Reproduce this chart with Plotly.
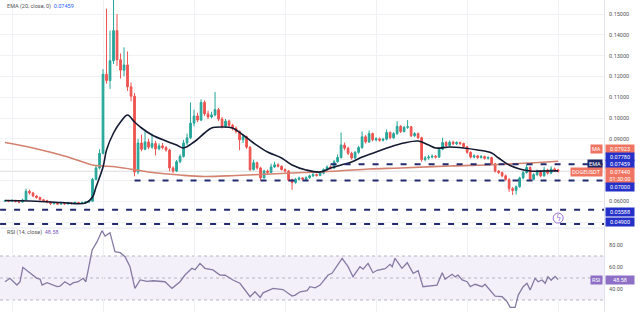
import plotly.graph_objects as go

# ---------------- data ----------------
open_ = [0.0600,0.0603,0.0600,0.0604,0.0598,0.0596,0.0606,0.0648,0.0640,0.0625,
         0.0618,0.0607,0.0603,0.0596,0.0588,0.0592,0.0586,0.0590,0.0587,0.0591,
         0.0589,0.0594,0.0590,0.0593,0.0596,0.0600,0.0705,0.0760,0.0830,0.1210,
         0.1180,0.1275,0.1420,0.1280,0.1230,0.1255,0.1150,0.1105,0.0740,0.0880,
         0.0850,0.0885,0.0860,0.0878,0.0852,0.0866,0.0858,0.0846,0.0760,0.0745,
         0.0790,0.0815,0.0880,0.0905,0.0975,0.1010,0.0990,0.1075,0.1020,0.1005,
         0.1015,0.1040,0.0995,0.0960,0.0985,0.0965,0.0950,0.0935,0.0895,0.0910,
         0.0860,0.0752,0.0785,0.0760,0.0712,0.0745,0.0738,0.0765,0.0775,0.0768,
         0.0752,0.0745,0.0702,0.0690,0.0705,0.0712,0.0706,0.0713,0.0722,0.0728,
         0.0724,0.0735,0.0752,0.0765,0.0760,0.0790,0.0810,0.0870,0.0855,0.0830,
         0.0808,0.0835,0.0858,0.0910,0.0885,0.0925,0.0895,0.0900,0.0893,0.0898,
         0.0930,0.0905,0.0925,0.0960,0.0935,0.0955,0.0958,0.0915,0.0925,0.0905,
         0.0800,0.0808,0.0812,0.0816,0.0812,0.0850,0.0882,0.0868,0.0884,0.0876,
         0.0882,0.0877,0.0862,0.0835,0.0812,0.0818,0.0810,0.0815,0.0806,0.0810,
         0.0780,0.0745,0.0738,0.0722,0.0705,0.0660,0.0652,0.0670,0.0712,0.0738,
         0.0762,0.0705,0.0728,0.0745,0.0722,0.0750,0.0735,0.0755,0.0750]
close = [0.0603,0.0600,0.0604,0.0598,0.0596,0.0606,0.0648,0.0640,0.0625,0.0618,
         0.0607,0.0603,0.0596,0.0588,0.0592,0.0586,0.0590,0.0587,0.0591,0.0589,
         0.0594,0.0590,0.0593,0.0596,0.0600,0.0705,0.0760,0.0830,0.1210,0.1180,
         0.1275,0.1420,0.1280,0.1230,0.1255,0.1150,0.1105,0.0740,0.0880,0.0850,
         0.0885,0.0860,0.0878,0.0852,0.0866,0.0858,0.0846,0.0760,0.0745,0.0790,
         0.0815,0.0880,0.0905,0.0975,0.1010,0.0990,0.1075,0.1020,0.1005,0.1015,
         0.1040,0.0995,0.0960,0.0985,0.0965,0.0950,0.0935,0.0895,0.0910,0.0860,
         0.0752,0.0785,0.0760,0.0712,0.0745,0.0738,0.0765,0.0775,0.0768,0.0752,
         0.0745,0.0702,0.0690,0.0705,0.0712,0.0706,0.0713,0.0722,0.0728,0.0724,
         0.0735,0.0752,0.0765,0.0760,0.0790,0.0810,0.0870,0.0855,0.0830,0.0808,
         0.0835,0.0858,0.0910,0.0885,0.0925,0.0895,0.0900,0.0893,0.0898,0.0930,
         0.0905,0.0925,0.0960,0.0935,0.0955,0.0958,0.0915,0.0925,0.0905,0.0800,
         0.0808,0.0812,0.0816,0.0812,0.0850,0.0882,0.0868,0.0884,0.0876,0.0882,
         0.0877,0.0862,0.0835,0.0812,0.0818,0.0810,0.0815,0.0806,0.0810,0.0780,
         0.0745,0.0738,0.0722,0.0705,0.0660,0.0652,0.0670,0.0712,0.0738,0.0762,
         0.0705,0.0728,0.0745,0.0722,0.0750,0.0735,0.0755,0.0750,0.0744]
high = [0.0607,0.0606,0.0608,0.0606,0.0601,0.0612,0.0660,0.0655,0.0645,0.0630,
        0.0622,0.0610,0.0607,0.0600,0.0597,0.0595,0.0594,0.0593,0.0596,0.0594,
        0.0598,0.0597,0.0598,0.0600,0.0605,0.0712,0.0775,0.0850,0.1235,0.1525,
        0.1420,0.1575,0.1500,0.1310,0.1340,0.1320,0.1170,0.1120,0.0900,0.0920,
        0.0935,0.0900,0.0925,0.0890,0.0878,0.0880,0.0865,0.0852,0.0768,0.0798,
        0.0825,0.0895,0.0925,0.1075,0.1040,0.1025,0.1090,0.1085,0.1035,0.1030,
        0.1125,0.1048,0.1005,0.0995,0.0992,0.0972,0.0960,0.0940,0.0922,0.0915,
        0.0865,0.0800,0.0790,0.0765,0.0752,0.0752,0.0780,0.0790,0.0782,0.0772,
        0.0758,0.0750,0.0708,0.0712,0.0718,0.0716,0.0720,0.0728,0.0735,0.0733,
        0.0740,0.0758,0.0772,0.0772,0.0798,0.0825,0.0930,0.0882,0.0862,0.0838,
        0.0842,0.0866,0.0935,0.0918,0.0940,0.0930,0.0908,0.0906,0.0905,0.0945,
        0.0936,0.0932,0.0985,0.0966,0.0962,0.0990,0.0962,0.0932,0.0930,0.0910,
        0.0818,0.0822,0.0825,0.0822,0.0858,0.0905,0.0890,0.0892,0.0890,0.0888,
        0.0886,0.0882,0.0866,0.0840,0.0825,0.0822,0.0822,0.0819,0.0816,0.0814,
        0.0784,0.0750,0.0742,0.0728,0.0710,0.0668,0.0676,0.0718,0.0745,0.0775,
        0.0768,0.0735,0.0752,0.0750,0.0765,0.0756,0.0768,0.0762,0.0756]
low = [0.0597,0.0596,0.0598,0.0594,0.0590,0.0594,0.0603,0.0632,0.0620,0.0612,
       0.0603,0.0598,0.0590,0.0582,0.0585,0.0581,0.0583,0.0582,0.0584,0.0584,
       0.0586,0.0586,0.0587,0.0589,0.0592,0.0598,0.0700,0.0752,0.0825,0.1165,
       0.1140,0.1260,0.1250,0.1190,0.1200,0.1130,0.1080,0.0720,0.0730,0.0840,
       0.0845,0.0850,0.0852,0.0820,0.0845,0.0850,0.0838,0.0745,0.0735,0.0740,
       0.0782,0.0810,0.0870,0.0898,0.0960,0.0980,0.0985,0.1010,0.0995,0.0998,
       0.1008,0.0985,0.0950,0.0952,0.0958,0.0940,0.0925,0.0845,0.0880,0.0852,
       0.0745,0.0748,0.0752,0.0700,0.0708,0.0730,0.0735,0.0760,0.0762,0.0748,
       0.0738,0.0695,0.0655,0.0684,0.0700,0.0700,0.0702,0.0708,0.0716,0.0718,
       0.0720,0.0730,0.0746,0.0752,0.0755,0.0785,0.0805,0.0845,0.0822,0.0800,
       0.0802,0.0828,0.0852,0.0878,0.0880,0.0888,0.0888,0.0886,0.0887,0.0892,
       0.0898,0.0900,0.0918,0.0928,0.0930,0.0948,0.0908,0.0908,0.0898,0.0790,
       0.0792,0.0800,0.0806,0.0805,0.0808,0.0845,0.0860,0.0862,0.0870,0.0870,
       0.0870,0.0856,0.0828,0.0805,0.0806,0.0803,0.0805,0.0800,0.0800,0.0774,
       0.0738,0.0730,0.0715,0.0698,0.0645,0.0630,0.0632,0.0665,0.0705,0.0732,
       0.0698,0.0700,0.0720,0.0715,0.0718,0.0728,0.0730,0.0742,0.0738]

ema_x = [0,7,16,23,25,26,28,29,31,33,35,37,39,42,46,49,51,54,57,59,62,65,68,71,75,
         79,82,86,90,93,96,99,102,106,110,114,118,121,123,127,131,135,139,141,144,
         147,150,154,158]
ema_y = [0.06034,0.06010,0.05938,0.05913,0.06202,0.06683,0.07644,0.08462,0.09279,
         0.09808,0.10144,0.09808,0.09519,0.09183,0.08894,0.08702,0.08558,0.08846,
         0.09279,0.09519,0.09567,0.09519,0.09183,0.08798,0.08365,0.08077,0.07740,
         0.07500,0.07404,0.07596,0.07740,0.07885,0.08125,0.08365,0.08606,0.08798,
         0.08894,0.08702,0.08558,0.08606,0.08558,0.08462,0.08317,0.08077,0.07740,
         0.07548,0.07452,0.07452,0.07459]

ma_x = [0,8,18,25,32,41,50,57,66,76,85,95,104,113,127,141,158]
ma_y = [0.08822,0.08558,0.08125,0.07740,0.07644,0.07404,0.07260,0.07188,0.07236,
        0.07308,0.07380,0.07452,0.07548,0.07596,0.07692,0.07764,0.07923]

rsi_x = [0,1.4,3.4,4.3,5.1,7.1,9.1,10,10.6,12,13.7,14.9,15.7,17.1,18.6,19.4,20.9,
         22.3,23.1,24.9,26.3,27.7,28.6,30,31.4,32.9,34.3,35.7,37.1,38.6,40.6,42.3,
         45.7,47.7,50,51.4,53.4,54.3,55.7,57.1,59.4,61.4,62.9,65.1,67.1,70,71.4,
         72.9,73.7,76.6,79.4,82,82.9,83.7,84.3,86.3,87.1,88.6,90,92.3,93.4,96.3,
         98,99.4,101.4,102.3,103.7,105.1,106.3,108.6,110,110.6,111.4,113.4,114.9,
         116.6,118,119.4,121.4,123.4,124.9,125.7,127.7,128.6,129.4,130.6,132,
         132.9,134.3,136.3,137.1,139.1,140,142,143.4,144.3,145.7,146.6,148,149.1,
         150,151.4,152.3,153.4,154.3,155.1,156,157.1,158]
rsi_y = [46.6,49.7,43.6,46.6,59.7,54.3,49.7,49.0,43.6,45.8,43.6,42.1,42.5,46.6,43.6,
         45.5,46.6,49.7,46.6,75.5,83.0,93.0,88.2,91.2,73.9,73.0,69.4,60.3,40.6,48.2,
         47.0,47.5,46.6,40.6,46.6,52.7,58.8,57.5,63.3,58.8,57.3,52.7,52.5,48.2,45.2,
         33.0,37.5,32.4,36.5,40.6,39.5,33.6,34.5,36.0,37.5,38.5,42.1,41.0,43.6,52.7,
         54.3,67.9,60.3,51.2,60.3,58.0,63.3,54.8,57.0,58.5,62.4,60.3,67.9,58.8,63.9,
         54.3,56.7,42.1,42.7,43.6,54.8,48.8,53.4,51.0,52.7,48.2,46.6,42.1,44.3,42.1,
         44.3,37.5,33.6,33.0,28.5,23.3,23.3,34.5,42.1,45.2,39.2,49.7,46.6,48.2,45.2,
         51.2,48.0,51.5,48.58]

levels = [0.07780, 0.07000, 0.05588, 0.04900]
level_start = [93, 37, -1.4, -1.4]
rsi_levels = [70, 50, 30]

last_price = 0.07440
ema_last = 0.07459
ma_last = 0.07923
rsi_last = 48.58

price_ticks = [0.05, 0.06, 0.07, 0.08, 0.09, 0.10, 0.11, 0.12, 0.13, 0.14, 0.15]
price_tick_text = ["", "0.06000", "", "", "0.09000", "0.10000", "0.11000",
                   "0.12000", "0.13000", "0.14000", "0.15000"]
rsi_ticks = [20, 40, 60, 80]

# ---------------- styling ----------------
X_MIN, X_MAX = -1.43, 171.1
Y_MAIN = [0.04712, 0.15673]
Y_RSI = [19.1, 95.45]
split = 84 / 312
GREEN, RED = "#26a69a", "#ef5350"
LEVEL_COL = "#232a6e"
BLUE_BOX = "#2430c8"
SALMON = "#f07462"
MA_COL = "#d3826f"
EMA_COL = "#151a33"
RSI_COL = "#857aa3"
PURPLE = "#8d6fc6"
FONT = "Roboto"

fig = go.Figure()

# RSI band
fig.add_shape(type="rect", xref="x2 domain", yref="y2", x0=0, x1=1,
              y0=rsi_levels[2], y1=rsi_levels[0], fillcolor="rgba(126,87,194,0.09)",
              line_width=0, layer="below")
for lv in rsi_levels:
    fig.add_shape(type="line", xref="x2 domain", yref="y2", x0=0, x1=1, y0=lv, y1=lv,
                  line=dict(color="#b8b4c4", width=1, dash="3px,3px"), layer="below")

# current price line
fig.add_shape(type="line", xref="x domain", yref="y", x0=0, x1=1,
              y0=last_price, y1=last_price, line=dict(color="#dcdcdc", width=1),
              layer="below")

fig.add_trace(go.Scatter(x=ma_x, y=ma_y, mode="lines", line=dict(color=MA_COL, width=1.6,
                         shape="spline"), xaxis="x", yaxis="y", hoverinfo="skip"))

fig.add_trace(go.Candlestick(x=list(range(len(close))), open=open_, high=high, low=low,
                             close=close,
                             increasing=dict(line=dict(color=GREEN, width=1), fillcolor=GREEN),
                             decreasing=dict(line=dict(color=RED, width=1), fillcolor=RED),
                             whiskerwidth=0, xaxis="x", yaxis="y", hoverinfo="skip"))

fig.add_trace(go.Scatter(x=ema_x, y=ema_y, mode="lines", line=dict(color=EMA_COL, width=1.6,
                         shape="spline"), xaxis="x", yaxis="y", hoverinfo="skip"))

for lv, xs in zip(levels, level_start):
    fig.add_trace(go.Scatter(x=[xs, X_MAX], y=[lv, lv], mode="lines",
                             line=dict(color=LEVEL_COL, width=2, dash="6px,8px"),
                             xaxis="x", yaxis="y", hoverinfo="skip"))

fig.add_trace(go.Scatter(x=rsi_x, y=rsi_y, mode="lines", line=dict(color=RSI_COL, width=1.3),
                         xaxis="x2", yaxis="y2", hoverinfo="skip"))

# lightning event marker
fig.add_shape(type="circle", xref="x", yref="y", xsizemode="pixel", ysizemode="pixel",
              xanchor=len(close) - 1, yanchor=0.0519, x0=-5, x1=5, y0=-5, y1=5,
              line=dict(color="#9b6ed8", width=1), fillcolor="white")
fig.add_annotation(x=len(close) - 1, y=0.0519, xref="x", yref="y", text="ϟ",
                   showarrow=False, font=dict(size=8, color="#9b6ed8", family="DejaVu Sans"))

# right-side price tags
def value_box(y, text, bg, yshift, yref="y", fc="white"):
    fig.add_annotation(x=1, y=y, xref="paper", yref=yref, xanchor="left", yanchor="middle",
                       text=text, showarrow=False, bgcolor=bg, borderpad=1,
                       yshift=yshift, xshift=1, width=26, align="center",
                       font=dict(size=5.5, color=fc, family=FONT))

def tag_box(y, text, bg, yshift, yref="y"):
    fig.add_annotation(x=1, y=y, xref="paper", yref=yref, xanchor="right", yanchor="middle",
                       text=text, showarrow=False, bgcolor=bg, borderpad=1,
                       yshift=yshift, xshift=-1,
                       font=dict(size=5.5, color="white", family=FONT))

tag_box(ma_last, "MA", SALMON, 12)
value_box(ma_last, f"{ma_last:.5f}", SALMON, 12)
value_box(levels[0], f"{levels[0]:.5f}", BLUE_BOX, 7)
tag_box(ema_last, "EMA", "#1d2766", 7)
value_box(ema_last, f"{ema_last:.5f}", BLUE_BOX, 7)
tag_box(last_price, "DOGEUSDT", SALMON, -1)
value_box(last_price, f"{last_price:.5f}<br>01:30:00", SALMON, -4)
value_box(levels[1], f"{levels[1]:.5f}", BLUE_BOX, -6.5)
value_box(levels[2], f"{levels[2]:.5f}", BLUE_BOX, -2)
value_box(levels[3], f"{levels[3]:.5f}", BLUE_BOX, 2)
tag_box(rsi_last, "RSI", PURPLE, 0, yref="y2")
value_box(rsi_last, f"{rsi_last:.2f}", PURPLE, 0, yref="y2")

# legends top-left
fig.add_annotation(x=0.008, y=1 - 6 / 312, xref="paper", yref="paper", xanchor="left",
                   yanchor="middle", showarrow=False,
                   text=f"EMA (20, close, 0)  <span style='color:#2962ff'>{ema_last:.5f}</span>",
                   font=dict(size=5.5, color="#555", family=FONT))
fig.add_annotation(x=0.008, y=1 - 232 / 312, xref="paper", yref="paper", xanchor="left",
                   yanchor="middle", showarrow=False,
                   text=f"RSI (14, close)  <span style='color:#7e57c2'>{rsi_last:.2f}</span>",
                   font=dict(size=5.5, color="#555", family=FONT))

# panel separator
fig.add_shape(type="line", xref="paper", yref="paper", x0=0, x1=1, y0=split, y1=split,
              line=dict(color="#e4e6ec", width=1))

grid = "#f0f1f5"
fig.update_layout(
    width=640, height=312, margin=dict(l=0, r=36, t=0, b=0),
    paper_bgcolor="white", plot_bgcolor="white", showlegend=False,
    xaxis=dict(domain=[0, 1], range=[X_MIN, X_MAX], anchor="y", showticklabels=False,
               showgrid=True, gridcolor=grid, dtick=26, tick0=2, zeroline=False,
               rangeslider=dict(visible=False), fixedrange=True),
    yaxis=dict(domain=[split, 1], range=Y_MAIN, side="right", tickvals=price_ticks,
               ticktext=price_tick_text, showgrid=True, gridcolor=grid, zeroline=False,
               showline=True, linecolor="#e0e3eb", ticks="", ticklabelstandoff=3,
               tickfont=dict(size=5.5, color="#555", family=FONT)),
    xaxis2=dict(domain=[0, 1], range=[X_MIN, X_MAX], anchor="y2", showticklabels=False,
                showgrid=True, gridcolor=grid, dtick=26, tick0=2, zeroline=False),
    yaxis2=dict(domain=[0, split], range=Y_RSI, side="right", tickvals=rsi_ticks,
                tickformat=".2f", showgrid=False, zeroline=False, showline=True,
                linecolor="#e0e3eb", ticks="", ticklabelstandoff=3,
                tickfont=dict(size=5.5, color="#555", family=FONT)),
)

fig.write_html("out.html")
